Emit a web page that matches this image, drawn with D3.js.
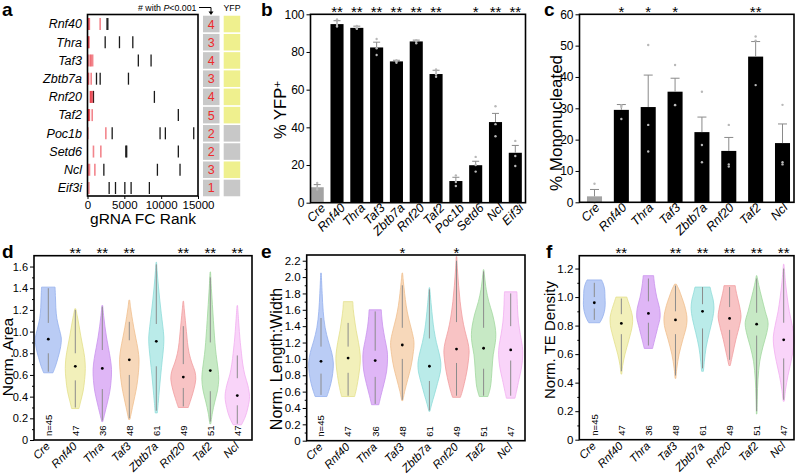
<!DOCTYPE html>
<html><head><meta charset="utf-8">
<script src="https://cdn.jsdelivr.net/npm/d3@7"></script>
<style>body{margin:0;background:#fff}svg{display:block}</style>
</head><body>
<svg id="chart" width="798" height="474"></svg>
<script>
// ================= DATA =================
// Panel a
const aGenes = ["Rnf40","Thra","Taf3","Zbtb7a","Rnf20","Taf2","Poc1b","Setd6","Ncl","Eif3i"];
const aSigRanks = [[50,150,250,1720],[50,120,200],[100,350,500,700],[60,150,500],[380,450,550,680],[60,120,180,250,640],[50,2490],[810,1810],[100,270,1000],[190]];
const aOtherRanks = [[2650,2760],[2400,4340,6150],[6900,8630],[1220,1720,5560],[810,9080],[12330],[3350,9850,10570,14420],[5200,5320,12330],[2220,9490,12560],[2940,3800,5070,5920,8400]];
const aSigCount = [4,3,4,3,4,5,2,2,3,1];
const aYFP = [true,true,true,true,true,true,false,false,true,false];
const aXTicks = [0,5000,10000,15000];

// Panel b
const bCats = ["Cre","Rnf40","Thra","Taf3","Zbtb7a","Rnf20","Taf2","Poc1b","Setd6","Ncl","Eif3i"];
const bMeans = [8.2,94.8,92.8,82.4,75.0,85.6,68.3,11.5,19.9,42.8,26.5];
const bSem = [1.4,1.8,0.9,2.8,0.6,0.7,2.0,2.0,2.1,4.6,3.9];
const bDots = [[10.5,8,7],[97.3,94.3,93.5],[93.8,92.5,92.3],[86.9,82,78.4],[75.7,75,74.3],[86.3,85.6,84.6],[70.7,68,66.8],[14.5,11,8.9],[24.3,20,16.5],[51.2,41.7,35.3],[32.8,24.8,19.5]];
const bStars = ["","**","**","**","**","**","**","","*","**","**"];
const bYTicks = [0,20,40,60,80,100];

// Panel c
const cCats = ["Cre","Rnf40","Thra","Taf3","Zbtb7a","Rnf20","Taf2","Ncl"];
const cMeans = [1.9,29.5,30.4,35.3,22.4,16.4,46.5,18.9];
const cSem = [2.2,1.7,10.2,4.3,4.8,4.3,4.8,6.1];
const cDots = [[5.9,0,0],[26.6,30.5,31],[50.2,24.7,16.2],[43.8,31.1,31],[35.3,18.3,12.8],[24.7,12.1,11.4],[52.9,51.6,37.4],[31.1,12.8,12.1]];
const cStars = ["","*","*","*","","","**",""];
const cYTicks = [0,10,20,30,40,50,60];

// Panels d, e, f (violins)
const vCats = ["Cre","Rnf40","Thra","Taf3","Zbtb7a","Rnf20","Taf2","Ncl"];
const vN = ["n=45","47","36","48","61","49","51","47"];

// d: Norm. Area  — density profiles [value, relative width]
const dProfiles = [
  [[0.62,0.36],[0.68,0.55],[0.76,0.75],[0.86,0.95],[0.94,1.0],[1.02,0.85],[1.12,0.66],[1.22,0.58],[1.32,0.55],[1.41,0.52]],
  [[0.29,0.28],[0.35,0.4],[0.45,0.6],[0.56,0.72],[0.66,0.77],[0.76,0.72],[0.86,0.58],[0.96,0.42],[1.06,0.28],[1.15,0.14],[1.21,0.04]],
  [[0.17,0.04],[0.25,0.2],[0.35,0.4],[0.45,0.58],[0.55,0.68],[0.65,0.71],[0.75,0.62],[0.85,0.47],[0.95,0.32],[1.05,0.2],[1.15,0.1],[1.24,0.03]],
  [[0.19,0.05],[0.3,0.24],[0.4,0.42],[0.5,0.58],[0.62,0.7],[0.74,0.75],[0.84,0.66],[0.94,0.5],[1.04,0.34],[1.14,0.2],[1.22,0.1],[1.29,0.03]],
  [[0.25,0.08],[0.35,0.15],[0.47,0.24],[0.6,0.34],[0.74,0.46],[0.86,0.56],[0.95,0.58],[1.05,0.5],[1.17,0.38],[1.3,0.26],[1.42,0.16],[1.55,0.07],[1.64,0.02]],
  [[0.30,0.38],[0.38,0.6],[0.47,0.82],[0.56,0.96],[0.63,0.9],[0.71,0.66],[0.8,0.45],[0.9,0.32],[1.0,0.24],[1.1,0.16],[1.2,0.08],[1.28,0.02]],
  [[0.15,0.04],[0.25,0.16],[0.35,0.34],[0.46,0.56],[0.56,0.65],[0.65,0.6],[0.74,0.5],[0.84,0.4],[0.96,0.32],[1.1,0.24],[1.25,0.16],[1.4,0.08],[1.55,0.02]],
  [[0.14,0.32],[0.21,0.6],[0.3,0.82],[0.4,0.94],[0.5,0.82],[0.6,0.58],[0.7,0.42],[0.8,0.32],[0.9,0.23],[1.0,0.16],[1.12,0.09],[1.24,0.02]]
];
const dMean = [0.93,0.68,0.66,0.74,0.91,0.58,0.64,0.41];
const dMin = [0.63,0.30,0.18,0.20,0.27,0.31,0.17,0.15];
const dQ1 = [0.80,0.55,0.47,0.60,0.68,0.48,0.45,0.32];
const dQ3 = [1.08,0.80,0.83,0.92,1.07,0.70,0.90,0.57];
const dMax = [1.40,1.20,1.23,1.09,1.62,1.05,1.50,0.78];
const dStars = ["","**","**","**","","**","**","**"];
const dYTicks = [0,0.2,0.4,0.6,0.8,1.0,1.2,1.4,1.6];

// e: Norm. Length:Width
const eProfiles = [
  [[0.54,0.45],[0.6,0.58],[0.7,0.76],[0.82,0.9],[0.95,0.95],[1.08,0.82],[1.22,0.56],[1.38,0.32],[1.58,0.17],[1.8,0.09],[2.05,0.02]],
  [[0.54,0.5],[0.65,0.66],[0.8,0.82],[0.95,0.93],[1.05,0.93],[1.2,0.8],[1.35,0.62],[1.5,0.48],[1.6,0.4],[1.7,0.36]],
  [[0.44,0.28],[0.55,0.44],[0.7,0.68],[0.85,0.88],[1.0,0.95],[1.1,0.92],[1.25,0.74],[1.4,0.58],[1.52,0.5],[1.6,0.47]],
  [[0.49,0.04],[0.6,0.18],[0.75,0.42],[0.9,0.66],[1.05,0.82],[1.2,0.9],[1.35,0.72],[1.5,0.48],[1.65,0.3],[1.8,0.18],[1.95,0.08],[2.05,0.02]],
  [[0.36,0.04],[0.45,0.18],[0.56,0.38],[0.7,0.62],[0.84,0.84],[0.95,0.88],[1.06,0.76],[1.2,0.54],[1.35,0.36],[1.5,0.24],[1.66,0.14],[1.87,0.02]],
  [[0.53,0.3],[0.6,0.44],[0.7,0.6],[0.85,0.8],[1.0,0.93],[1.1,0.97],[1.2,0.88],[1.35,0.64],[1.5,0.45],[1.7,0.28],[1.9,0.16],[2.1,0.07],[2.25,0.02]],
  [[0.54,0.33],[0.65,0.52],[0.76,0.6],[0.9,0.66],[1.05,0.74],[1.2,0.9],[1.3,0.94],[1.4,0.88],[1.55,0.68],[1.7,0.4],[1.85,0.2],[2.0,0.08],[2.09,0.02]],
  [[0.52,0.33],[0.6,0.44],[0.75,0.64],[0.9,0.84],[1.05,0.93],[1.15,0.9],[1.3,0.74],[1.45,0.6],[1.6,0.53],[1.72,0.5],[1.82,0.48]]
];
const eMean = [0.97,1.01,0.98,1.17,0.91,1.12,1.13,1.11];
const eMin = [0.56,0.55,0.45,0.50,0.37,0.55,0.55,0.55];
const eQ1 = [0.82,0.83,0.78,1.00,0.73,0.95,0.88,0.98];
const eQ3 = [1.15,1.15,1.10,1.38,1.25,1.45,1.38,1.40];
const eMax = [1.50,1.44,1.58,1.90,1.85,2.20,2.07,1.80];
const eStars = ["","","","*","","*","",""];
const eYTicks = [0,0.2,0.4,0.6,0.8,1.0,1.2,1.4,1.6,1.8,2.0,2.2];

// f: Norm. TE Density
const fProfiles = [
  [[0.82,0.42],[0.85,0.6],[0.9,0.78],[0.95,0.84],[1.0,0.82],[1.05,0.8],[1.09,0.7],[1.12,0.56]],
  [[0.46,0.03],[0.52,0.1],[0.6,0.28],[0.7,0.58],[0.8,0.84],[0.86,0.86],[0.92,0.7],[0.97,0.52],[1.0,0.42]],
  [[0.64,0.32],[0.7,0.48],[0.78,0.7],[0.86,0.9],[0.92,0.86],[1.0,0.64],[1.07,0.5],[1.12,0.43],[1.15,0.4]],
  [[0.43,0.03],[0.5,0.1],[0.6,0.28],[0.7,0.56],[0.8,0.85],[0.86,0.88],[0.94,0.7],[1.0,0.48],[1.05,0.28],[1.09,0.07]],
  [[0.48,0.07],[0.55,0.14],[0.65,0.28],[0.75,0.52],[0.85,0.78],[0.92,0.88],[0.98,0.82],[1.03,0.68],[1.07,0.58]],
  [[0.52,0.05],[0.6,0.24],[0.7,0.48],[0.8,0.76],[0.86,0.88],[0.93,0.78],[1.0,0.6],[1.05,0.48],[1.08,0.43]],
  [[0.18,0.02],[0.3,0.05],[0.42,0.1],[0.55,0.24],[0.65,0.48],[0.75,0.78],[0.82,0.88],[0.9,0.66],[1.0,0.38],[1.08,0.17],[1.15,0.02]],
  [[0.27,0.04],[0.35,0.14],[0.45,0.33],[0.55,0.57],[0.65,0.76],[0.72,0.8],[0.8,0.66],[0.9,0.43],[1.0,0.27],[1.1,0.14],[1.23,0.02]]
];
const fMean = [0.96,0.815,0.885,0.84,0.90,0.85,0.81,0.70];
const fMin = [0.84,0.48,0.66,0.45,0.50,0.56,0.20,0.28];
const fQ1 = [0.92,0.74,0.82,0.74,0.78,0.77,0.73,0.57];
const fQ3 = [1.00,0.88,0.97,0.90,0.95,0.93,0.89,0.82];
const fMax = [1.10,0.99,1.13,1.08,1.07,1.07,1.13,1.20];
const fStars = ["","**","","**","**","**","**","**"];
const fYTicks = [0,0.2,0.4,0.6,0.8,1.0,1.2];

// ================= DRAWING =================
const FONT = "'Liberation Sans', Arial, Helvetica, sans-serif";
const svg = d3.select("#chart").attr("font-family", FONT);
const violinFill = ["#b2c7f4","#f1eeb2","#dbaef5","#f6d4b2","#b2e9e7","#f7bcbe","#c1e7bf","#f8cff8"];
const violinStroke = ["#94b0ee","#e3df8c","#c993ee","#f0bf8e","#8fdcd9","#f19da0","#a2d8a0","#f1aef0"];

function frame(x0, y0, x1, y1) {
  svg.append("rect").attr("x", x0).attr("y", y0).attr("width", x1 - x0).attr("height", y1 - y0)
    .attr("fill", "none").attr("stroke", "#000").attr("stroke-width", 1.6);
}
function panelLetter(t, x, y) {
  svg.append("text").attr("x", x).attr("y", y).attr("font-size", 19).attr("font-weight", "bold").text(t);
}
function leftAxis(y, x0, ticks, fmt, minor, fs) {
  const g = svg.append("g").attr("transform", `translate(${x0},0)`)
    .call(d3.axisLeft(y).tickValues(ticks).tickSize(4).tickPadding(2).tickFormat(fmt));
  g.select(".domain").remove();
  g.selectAll("text").attr("font-size", fs).attr("font-family", FONT).attr("fill", "#000");
  g.selectAll("line").attr("stroke", "#000");
  if (minor) {
    const m = svg.append("g").attr("transform", `translate(${x0},0)`)
      .call(d3.axisLeft(y).tickValues(minor).tickSize(2).tickFormat(""));
    m.select(".domain").remove();
  }
}
function yTitle(txt, x, y, fs, sup) {
  const t = svg.append("text").attr("transform", `translate(${x},${y}) rotate(-90)`)
    .attr("text-anchor", "middle").attr("dy", "0.35em").attr("font-size", fs).text(txt);
  if (sup) t.append("tspan").attr("dy", "-0.45em").attr("font-size", fs * 0.7).text(sup);
}
function xCatLabels(cats, xc, bottom, dx, dy, fs) {
  svg.append("g").selectAll("text").data(cats).join("text")
    .attr("transform", d => `translate(${xc(d) + dx},${bottom + dy}) rotate(-45)`)
    .attr("text-anchor", "end").attr("font-style", "italic").attr("font-size", fs).text(d => d);
}
function stars(cats, arr, xc, top) {
  svg.append("g").selectAll("text").data(cats).join("text")
    .attr("x", d => xc(d)).attr("y", top + 2.5).attr("text-anchor", "middle")
    .attr("font-size", 15).text((d, i) => arr[i]);
}

// ---------- Panel a ----------
(function () {
  const L = 87.5, R = 198, T = 14.5, B = 196;
  const x = d3.scaleLinear().domain([0, 15000]).range([L, R]);
  const y = d3.scaleBand().domain(aGenes).range([15, 197]).paddingInner(0.09).paddingOuter(0.04);
  const g = svg.append("g");
  aGenes.forEach((gene, i) => {
    const cy = y(gene) + y.bandwidth() / 2;
    aOtherRanks[i].forEach(r => g.append("line").attr("x1", x(r)).attr("x2", x(r))
      .attr("y1", cy - 6).attr("y2", cy + 6).attr("stroke", "#1a1a1a").attr("stroke-width", 1.3));
    aSigRanks[i].forEach(r => g.append("line").attr("x1", x(r)).attr("x2", x(r))
      .attr("y1", cy - 6).attr("y2", cy + 6).attr("stroke", "#e8202e").attr("stroke-opacity", 0.55).attr("stroke-width", 1.6));
    svg.append("text").attr("x", 82).attr("y", cy).attr("dy", "0.35em").attr("text-anchor", "end")
      .attr("font-style", "italic").attr("font-size", 12.5).text(gene);
    svg.append("rect").attr("x", 203).attr("y", y(gene)).attr("width", 16.5).attr("height", y.bandwidth()).attr("fill", "#c8c8c8");
    svg.append("text").attr("x", 211.3).attr("y", cy).attr("dy", "0.36em").attr("text-anchor", "middle")
      .attr("font-size", 12.5).attr("fill", "#ee2b2b").text(aSigCount[i]);
    svg.append("rect").attr("x", 223.7).attr("y", y(gene)).attr("width", 16.5).attr("height", y.bandwidth())
      .attr("fill", aYFP[i] ? "#eff08e" : "#c8c8c8");
  });
  frame(L, T, R, B);
  const ax = svg.append("g").attr("transform", `translate(0,${B})`)
    .call(d3.axisBottom(x).tickValues(aXTicks).tickSize(3).tickPadding(2).tickFormat(d3.format("d")));
  ax.select(".domain").remove();
  ax.selectAll("text").attr("font-size", 11.5).attr("font-family", FONT);
  svg.append("text").attr("x", 143).attr("y", 224).attr("text-anchor", "middle").attr("font-size", 15.5).text("gRNA FC Rank");
  const h = svg.append("text").attr("x", 196.5).attr("y", 10.5).attr("text-anchor", "end").attr("font-size", 8.8);
  h.append("tspan").text("# with ");
  h.append("tspan").attr("font-style", "italic").text("P");
  h.append("tspan").text("<0.001");
  svg.append("path").attr("d", "M199,7.5 H211 V12").attr("fill", "none").attr("stroke", "#000").attr("stroke-width", 1);
  svg.append("path").attr("d", "M208.5,11.5 L213.5,11.5 L211,15 Z").attr("fill", "#000");
  svg.append("text").attr("x", 232).attr("y", 10.5).attr("text-anchor", "middle").attr("font-size", 8.8).text("YFP");
  panelLetter("a", 2, 16);
})();

// ---------- Bar panels ----------
function barPanel(p) {
  const x = d3.scaleBand().domain(p.cats).range([p.c0 - p.step / 2, p.c1 + p.step / 2])
    .paddingInner(p.padIn).paddingOuter(p.padIn / 2);
  const xc = d => x(d) + x.bandwidth() / 2;
  const y = d3.scaleLinear().domain([0, p.ymax]).range([p.B, p.T]);
  const bw = x.bandwidth();
  p.cats.forEach((c, i) => {
    svg.append("rect").attr("x", x(c)).attr("y", y(p.means[i])).attr("width", bw)
      .attr("height", y(0) - y(p.means[i])).attr("fill", i === 0 ? "#a3a3a3" : "#000");
    const cx = xc(c);
    const top = y(p.means[i] + p.sem[i]);
    svg.append("line").attr("x1", cx).attr("x2", cx).attr("y1", y(p.means[i])).attr("y2", top)
      .attr("stroke", "#8a8a8a").attr("stroke-width", 1);
    svg.append("line").attr("x1", cx - p.cap).attr("x2", cx + p.cap).attr("y1", top).attr("y2", top)
      .attr("stroke", "#8a8a8a").attr("stroke-width", 1);
    p.dots[i].forEach(v => svg.append("circle").attr("cx", cx).attr("cy", y(v)).attr("r", 1.2).attr("fill", "#b8b8b8"));
  });
  frame(p.L, p.T, p.R, p.B);
  leftAxis(y, p.L, p.ticks, d3.format("d"), null, 12);
  xCatLabels(p.cats, xc, p.B, p.labelDx, 6, 12.5);
  stars(p.cats, p.stars, xc, p.T);
}
barPanel({cats: bCats, means: bMeans, sem: bSem, dots: bDots, stars: bStars, ticks: bYTicks,
  ymax: 100, L: 310.5, R: 525.5, T: 14.3, B: 202.7, c0: 317.2, c1: 515.3, step: 19.81, padIn: 0.34,
  cap: 3.5, labelDx: 9});
yTitle("% YFP", 280, 110, 16.5, "+");
panelLetter("b", 261, 16);

barPanel({cats: cCats, means: cMeans, sem: cSem, dots: cDots, stars: cStars, ticks: cYTicks,
  ymax: 60, L: 579.5, R: 794, T: 14.3, B: 202.3, c0: 594.5, c1: 782.5, step: 26.86, padIn: 0.44,
  cap: 4.5, labelDx: 6});
yTitle("% Mononucleated", 556, 123, 17);
panelLetter("c", 544, 16);

// ---------- Violin panels ----------
function violinPanel(p) {
  const x = d3.scalePoint().domain(vCats).range([p.c0, p.c1]);
  const y = d3.scaleLinear().domain([0, p.ymax]).range([p.B, p.T]);
  const w = d3.scaleLinear().domain([0, 1]).range([0, 13]);
  vCats.forEach((c, i) => {
    const cx = x(c);
    const area = d3.area().curve(d3.curveCatmullRom.alpha(0.5))
      .y(d => y(d[0])).x0(d => cx - w(d[1])).x1(d => cx + w(d[1]));
    svg.append("path").attr("d", area(p.prof[i])).attr("fill", violinFill[i]).attr("fill-opacity", 0.9)
      .attr("stroke", violinStroke[i]).attr("stroke-width", 0.8);
    svg.append("line").attr("x1", cx).attr("x2", cx).attr("y1", y(p.min[i])).attr("y2", y(p.q1[i]))
      .attr("stroke", "#8c8c8c").attr("stroke-width", 1);
    svg.append("line").attr("x1", cx).attr("x2", cx).attr("y1", y(p.q3[i])).attr("y2", y(p.max[i]))
      .attr("stroke", "#8c8c8c").attr("stroke-width", 1);
    svg.append("circle").attr("cx", cx).attr("cy", y(p.mean[i])).attr("r", 1.4).attr("fill", "#000");
    svg.append("text").attr("transform", `translate(${cx},${p.B - 4}) rotate(-90)`).attr("dy", "0.35em")
      .attr("font-size", 9.5).attr("text-anchor", "start").text(vN[i]);
  });
  frame(p.L, p.T, p.R, p.B);
  const minor = d3.range(0.1, p.ymax, 0.2).map(v => +v.toFixed(2));
  leftAxis(y, p.L, p.ticks, d => d === 0 ? "0" : d3.format(".1f")(d), minor, p.tfs);
  xCatLabels(vCats, x, p.B, 2.5, 7, 11.5);
  stars(vCats, p.stars, x, p.T);
}
violinPanel({prof: dProfiles, mean: dMean, min: dMin, q1: dQ1, q3: dQ3, max: dMax, stars: dStars, ticks: dYTicks,
  ymax: 1.7, L: 34, R: 252, T: 255.7, B: 440, c0: 48.3, c1: 237.3, tfs: 11});
yTitle("Norm. Area", 7.5, 357, 15.5);
panelLetter("d", 2, 258);

violinPanel({prof: eProfiles, mean: eMean, min: eMin, q1: eQ1, q3: eQ3, max: eMax, stars: eStars, ticks: eYTicks,
  ymax: 2.27, L: 306.7, R: 525, T: 255, B: 440.7, c0: 321, c1: 510.7, tfs: 11.5});
yTitle("Norm. Length:Width", 276.5, 359, 16);
panelLetter("e", 261, 258);

violinPanel({prof: fProfiles, mean: fMean, min: fMin, q1: fQ1, q3: fQ3, max: fMax, stars: fStars, ticks: fYTicks,
  ymax: 1.29, L: 579.3, R: 794, T: 255.7, B: 439.7, c0: 594.3, c1: 783.7, tfs: 11.5});
yTitle("Norm. TE Density", 549.5, 340, 15);
panelLetter("f", 546, 258);
</script>
</body></html>
